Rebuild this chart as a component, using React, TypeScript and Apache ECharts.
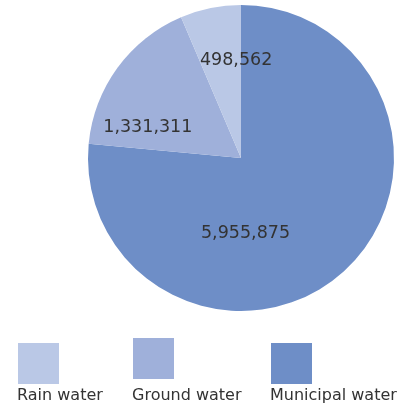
import React, { useEffect, useRef } from "react";
import * as echarts from "echarts";

const categories = ["Rain water", "Ground water", "Municipal water"];
const values = [498562, 1331311, 5955875];
const colors = ["#BAC8E6", "#9FB0DA", "#6E8EC7"];

// layout-only settings
const labelOffsets: Record<string, [number, number]> = {
  "Rain water": [11, -21],
  "Ground water": [-29, 15],
  "Municipal water": [-49, 15],
};
const legendBoxes: Record<string, [number, number]> = {
  "Rain water": [18, 343],
  "Ground water": [133, 338],
  "Municipal water": [271, 343],
};

export default function App() {
  const ref = useRef<HTMLDivElement>(null);
  useEffect(() => {
    if (!ref.current) return;
    const chart = echarts.init(ref.current, undefined, { renderer: "svg" });
    const pieOrder = [2, 1, 0];
    const data = pieOrder.map((i) => ({
      name: categories[i],
      value: values[i],
      itemStyle: { color: colors[i] },
      label: { offset: labelOffsets[categories[i]] },
    }));
    const graphic: any[] = [];
    categories.forEach((c, i) => {
      const [x, y] = legendBoxes[c];
      graphic.push({
        type: "rect",
        left: x,
        top: y,
        shape: { width: 41, height: 41 },
        style: { fill: colors[i] },
        silent: true,
      });
      graphic.push({
        type: "text",
        x: x - 1,
        y: 394,
        style: {
          text: c,
          fill: "#333333",
          font: '16px "DejaVu Sans"',
          verticalAlign: "middle",
          align: "left",
        },
        silent: true,
      });
    });
    chart.setOption({
      animation: false,
      graphic,
      series: [
        {
          type: "pie",
          center: [241, 158],
          radius: 153,
          startAngle: 90,
          clockwise: true,
          avoidLabelOverlap: false,
          itemStyle: { borderWidth: 0 },
          emphasis: { disabled: true },
          label: {
            show: true,
            position: "inside",
            color: "#333333",
            fontFamily: "DejaVu Sans",
            fontSize: 17.5,
            formatter: (p: any) => Number(p.value).toLocaleString("en-US"),
          },
          labelLine: { show: false },
          data,
        },
      ],
    });
    return () => chart.dispose();
  }, []);
  return (
    <div
      ref={ref}
      style={{ position: "fixed", left: 0, top: 0, width: 413, height: 403 }}
    />
  );
}
